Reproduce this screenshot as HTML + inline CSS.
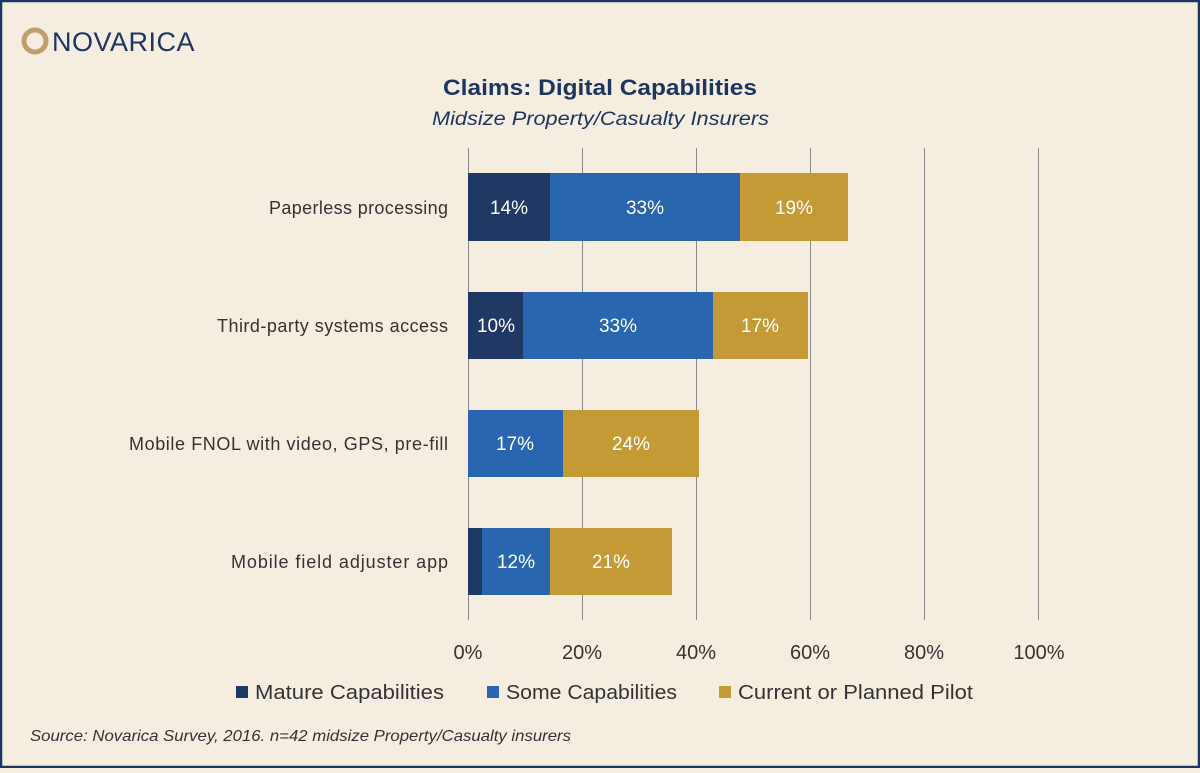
<!DOCTYPE html>
<html><head><meta charset="utf-8"><style>
body{margin:0;width:1200px;height:768px;overflow:hidden;background:#f5eee0;font-family:"Liberation Sans",sans-serif}
</style></head><body>
<svg width="1200" height="768" xmlns="http://www.w3.org/2000/svg" font-family="Liberation Sans, sans-serif">
<rect x="1" y="1" width="1198" height="766" fill="#f5eee0" stroke="#1d3660" stroke-width="2.5"/>
<circle cx="35" cy="41" r="11" fill="none" stroke="#c29f6a" stroke-width="5"/>
<text x="52" y="51" font-size="27" fill="#1d3660" letter-spacing="0.5">NOVARICA</text>
<text x="443" y="95" font-size="22" font-weight="bold" fill="#1d3660" textLength="314" lengthAdjust="spacingAndGlyphs">Claims: Digital Capabilities</text>
<text x="432" y="125" font-size="19" font-style="italic" fill="#1d3660" textLength="337" lengthAdjust="spacingAndGlyphs">Midsize Property/Casualty Insurers</text>
<g stroke="#8a8a8a" stroke-width="1">
<line x1="468.5" y1="148" x2="468.5" y2="620"/><line x1="582.5" y1="148" x2="582.5" y2="620"/>
<line x1="696.5" y1="148" x2="696.5" y2="620"/><line x1="810.5" y1="148" x2="810.5" y2="620"/>
<line x1="924.5" y1="148" x2="924.5" y2="620"/><line x1="1038.5" y1="148" x2="1038.5" y2="620"/>
</g>
<g>
<rect x="468" y="173" width="82" height="68" fill="#1f3864"/><rect x="550" y="173" width="190" height="68" fill="#2a66b0"/><rect x="740" y="173" width="108" height="68" fill="#c49a36"/>
<rect x="468" y="292" width="55" height="67" fill="#1f3864"/><rect x="523" y="292" width="190" height="67" fill="#2a66b0"/><rect x="713" y="292" width="95" height="67" fill="#c49a36"/>
<rect x="468" y="410" width="95" height="67" fill="#2a66b0"/><rect x="563" y="410" width="136" height="67" fill="#c49a36"/>
<rect x="468" y="528" width="14" height="67" fill="#1f3864"/><rect x="482" y="528" width="68" height="67" fill="#2a66b0"/><rect x="550" y="528" width="122" height="67" fill="#c49a36"/>
</g>
<g font-size="19" fill="#fff" text-anchor="middle">
<text x="509" y="214">14%</text><text x="645" y="214">33%</text><text x="794" y="214">19%</text>
<text x="496" y="332">10%</text><text x="618" y="332">33%</text><text x="760" y="332">17%</text>
<text x="515" y="450">17%</text><text x="631" y="450">24%</text>
<text x="516" y="568">12%</text><text x="611" y="568">21%</text>
</g>
<g font-size="18" fill="#333" lengthAdjust="spacingAndGlyphs">
<text x="269" y="214" textLength="179">Paperless processing</text>
<text x="217" y="332" textLength="231">Third-party systems access</text>
<text x="129" y="450" textLength="319">Mobile FNOL with video, GPS, pre-fill</text>
<text x="231" y="568" textLength="217">Mobile field adjuster app</text>
</g>
<g font-size="20" fill="#333" text-anchor="middle">
<text x="468" y="659">0%</text><text x="582" y="659">20%</text><text x="696" y="659">40%</text>
<text x="810" y="659">60%</text><text x="924" y="659">80%</text><text x="1039" y="659">100%</text>
</g>
<g font-size="20" fill="#333">
<rect x="236" y="686" width="12" height="12" fill="#1f3864"/><text x="255" y="699" textLength="189" lengthAdjust="spacingAndGlyphs">Mature Capabilities</text>
<rect x="487" y="686" width="12" height="12" fill="#2a66b0"/><text x="506" y="699" textLength="171" lengthAdjust="spacingAndGlyphs">Some Capabilities</text>
<rect x="719" y="686" width="12" height="12" fill="#c49a36"/><text x="738" y="699" textLength="235" lengthAdjust="spacingAndGlyphs">Current or Planned Pilot</text>
</g>
<text x="30" y="741" font-size="16" font-style="italic" fill="#333" textLength="541" lengthAdjust="spacingAndGlyphs">Source: Novarica Survey, 2016. n=42 midsize Property/Casualty insurers</text>
</svg>
</body></html>
